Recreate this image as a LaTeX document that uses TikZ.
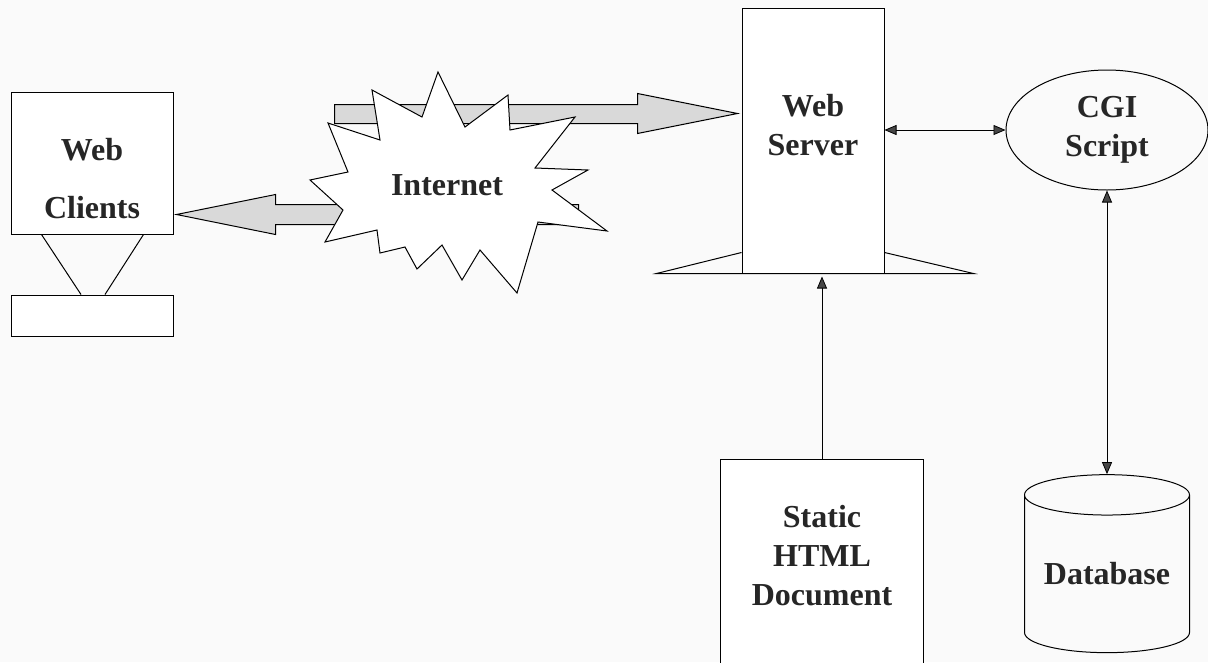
\documentclass[tikz,border=0pt]{standalone}
\usepackage{fontspec}
\setmainfont{Liberation Serif}
\usetikzlibrary{calc}
\usetikzlibrary{positioning}
\usetikzlibrary{shapes.geometric}
\usetikzlibrary{arrows.meta}

\begin{document}
\begin{tikzpicture}[x=1pt, y=-1pt, line width=1pt,
    box/.style={draw, fill=white, inner sep=0pt},
    txt/.style={font=\fontsize{32}{39}\selectfont\bfseries, align=center, text=black!85},
    bigarrow/.style={draw, fill=gray!30, line join=miter},
    conn/.style={line width=0.8pt, >={Triangle[length=12pt, width=10pt, fill=gray!55!black]}}]
        \clip (0,0) rectangle (1208,662);
        \fill[gray!4] (0,0) rectangle (1208,662);
        % client side
        \node (clients) at (92,163) [box, minimum width=162pt, minimum height=142pt,
            label={[txt, yshift=-16pt]center:Web\\[19pt]Clients}] {};
        \node (clientbase) at (92,315.5) [box, minimum width=162pt, minimum height=41pt] {};
        \draw ($(clients.south west)+(31,0)$) -- ($(clientbase.north)+(-11,0)$);
        \draw ($(clients.south east)+(-30,0)$) -- ($(clientbase.north)+(13,0)$);
        % server side
        \node (server) at (813,140.5) [box, minimum width=142pt, minimum height=265pt,
            label={[txt, yshift=15pt]center:Web\\Server}] {};
        \draw ($(server.south west)+(0,-21)$) -- ($(server.south west)+(-85,0)$)
            -- ($(server.south east)+(89,0)$) -- ($(server.south east)+(0,-21)$);
        \node (cgi) at (1107,130) [draw, ellipse, inner sep=0pt, minimum width=202pt,
            minimum height=120pt, txt] {CGI\\Script};
        \node (static) at (822,579) [box, minimum width=203pt, minimum height=240pt,
            label={[txt, yshift=23pt]center:Static\\HTML\\Document}] {};
        \node (db) at (1107,574) [draw, cylinder, shape border rotate=90, aspect=0.32,
            minimum width=165pt, minimum height=178pt, inner sep=0pt, txt] {Database};
        % big arrows behind the cloud
        \coordinate (cltip) at ($(clients.south east)+(3,-20)$);
        \coordinate (svtip) at ($(server.west)+(-4,-27)$);
        \draw[bigarrow] (cltip) -- ++(99,-20) -- ++(0,10) -- ++(303,0) -- ++(0,20)
            -- ++(-303,0) -- ++(0,10) -- cycle;
        \draw[bigarrow] (svtip) -- ++(-100,-20) -- ++(0,11) -- ++(-303,0) -- ++(0,19)
            -- ++(303,0) -- ++(0,10) -- cycle;
        % internet cloud
        \draw[fill=white, line join=miter] (438,72) -- (465,127) -- (508,95) -- (510,130)
            -- (575,117) -- (535,168) -- (588,170) -- (552,190) -- (607,231) -- (538,222)
            -- (517,293) -- (480,250) -- (462,280) -- (442,245) -- (417,269) -- (405,247)
            -- (380,253) -- (377,230) -- (325,242) -- (343,210) -- (310,180) -- (348,172)
            -- (328,123) -- (380,140) -- (372,90) -- (422,117) -- cycle;
        \node (internet) at (447,185) [txt] {Internet};
        % links
        \draw[conn, <->] (cgi.west -| server.east) -- (cgi.west);
        \draw[conn, <->] (cgi.south) -- (db.north);
        \draw[conn, ->] (static.north) -- ($(static.north |- server.south)+(0,3)$);
    \end{tikzpicture}
\end{document}
